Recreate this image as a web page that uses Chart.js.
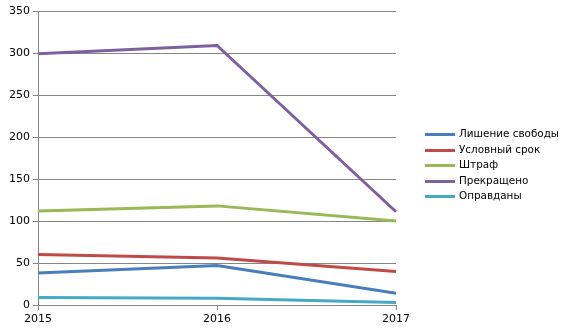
<!DOCTYPE html>
<html>
<head>
<meta charset="utf-8">
<script src="https://cdn.jsdelivr.net/npm/chart.js@4/dist/chart.umd.min.js"></script>
<style>
  html, body { margin: 0; padding: 0; background: #fff; }
  #wrap { width: 570px; height: 333px; position: relative; }
</style>
</head>
<body>
<div id="wrap"><canvas id="chart" width="570" height="333"></canvas></div>
<script>
// years and outcomes per year
const years = ['2015', '2016', '2017'];
const seriesNames = ['Лишение свободы', 'Условный срок', 'Штраф', 'Прекращено', 'Оправданы'];
const imprisonment = [38, 47, 14];
const probation = [60, 56, 40];
const fine = [112, 118, 100];
const terminated = [299, 309, 111];
const acquitted = [9, 8, 3];
const yTicks = [0, 50, 100, 150, 200, 250, 300, 350];

const colors = ['#4a7ebb', '#be4b48', '#98b954', '#7d60a0', '#46aac5'];
const gridColor = '#868686';
const fontFamily = '"DejaVu Sans", Verdana, sans-serif';

const values = [imprisonment, probation, fine, terminated, acquitted];

// legend drawn to the right of the plot
const sideLegend = {
  id: 'sideLegend',
  afterDraw(chart) {
    const ctx = chart.ctx;
    const x0 = 425, x1 = 455, top = 134, step = 15.6;
    ctx.save();
    ctx.font = '10.4px ' + fontFamily;
    ctx.textBaseline = 'middle';
    ctx.textAlign = 'left';
    seriesNames.forEach((name, i) => {
      const y = Math.round(top + i * step) + 0.5;
      ctx.strokeStyle = colors[i];
      ctx.lineWidth = 3;
      ctx.beginPath();
      ctx.moveTo(x0, y);
      ctx.lineTo(x1, y);
      ctx.stroke();
      ctx.fillStyle = '#000';
      ctx.fillText(name, x1 + 4, y);
    });
    ctx.restore();
  }
};

new Chart(document.getElementById('chart').getContext('2d'), {
  type: 'line',
  data: {
    labels: years,
    datasets: seriesNames.map((name, i) => ({
      label: name,
      data: values[i],
      borderColor: colors[i],
      backgroundColor: colors[i],
      borderWidth: 3,
      pointRadius: 0,
      tension: 0,
      fill: false
    }))
  },
  options: {
    responsive: false,
    animation: false,
    layout: { padding: { left: 0, right: 174, top: 11, bottom: 0 } },
    plugins: { legend: { display: false }, tooltip: { enabled: false } },
    scales: {
      x: {
        offset: false,
        grid: { drawOnChartArea: false, color: gridColor, tickLength: 5 },
        border: { color: gridColor },
        ticks: { color: '#000', font: { family: fontFamily, size: 11 }, padding: 3, maxRotation: 0 },
        afterFit(scale) { scale.height = 28; }
      },
      y: {
        min: 0,
        max: 350,
        afterBuildTicks(scale) { scale.ticks = yTicks.map(v => ({ value: v })); },
        grid: { color: gridColor, tickLength: 5 },
        border: { color: gridColor },
        ticks: { color: '#000', font: { family: fontFamily, size: 11 }, padding: 3 },
        afterFit(scale) { scale.width = 38; }
      }
    }
  },
  plugins: [sideLegend]
});
</script>
</body>
</html>
